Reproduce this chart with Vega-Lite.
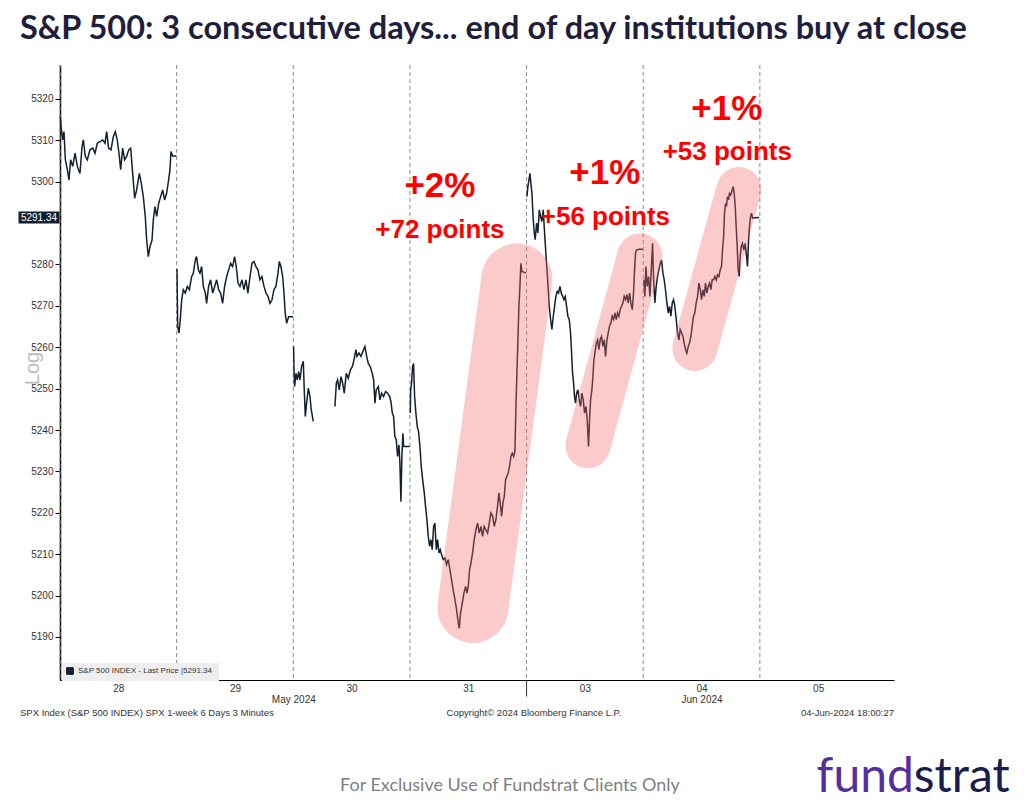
{
  "$schema": "https://vega.github.io/schema/vega-lite/v6.json",
  "width": 834,
  "height": 615,
  "autosize": {"type": "none"},
  "padding": {"left": 60, "top": 65, "right": 130, "bottom": 121},
  "background": "white",
  "title": {
    "text": "S&P 500: 3 consecutive days... end of day institutions buy at close",
    "anchor": "start",
    "frame": "group",
    "font": "Lato",
    "fontSize": 32.5,
    "fontWeight": "bold",
    "color": "#1f1f3d",
    "baseline": "alphabetic",
    "dx": -40,
    "dy": 34,
    "offset": 27
  },
  "config": {"view": {"stroke": null}},
  "datasets": {
    "days": [{"t": 0}, {"t": 1}, {"t": 2}, {"t": 3}, {"t": 4}, {"t": 5}, {"t": 6}],
    "sep": [{"t": 4, "v": 5179.6, "v2": 5175.6}],
    "price": [
      {"s":"28","t":0.003,"v":5315.7},{"s":"28","t":0.009,"v":5313.3},{"s":"28","t":0.023,"v":5310.1},{"s":"28","t":0.034,"v":5312.1},{"s":"28","t":0.046,"v":5305.3},{"s":"28","t":0.063,"v":5302.9},{"s":"28","t":0.077,"v":5300.4},{"s":"28","t":0.091,"v":5305.3},{"s":"28","t":0.109,"v":5303.7},{"s":"28","t":0.129,"v":5306.9},{"s":"28","t":0.149,"v":5303.7},{"s":"28","t":0.171,"v":5302.0},{"s":"28","t":0.189,"v":5308.5},{"s":"28","t":0.2,"v":5310.1},{"s":"28","t":0.217,"v":5306.1},{"s":"28","t":0.234,"v":5305.3},{"s":"28","t":0.257,"v":5307.7},{"s":"28","t":0.28,"v":5308.1},{"s":"28","t":0.3,"v":5306.9},{"s":"28","t":0.32,"v":5309.3},{"s":"28","t":0.343,"v":5309.7},{"s":"28","t":0.366,"v":5310.1},{"s":"28","t":0.386,"v":5309.3},{"s":"28","t":0.4,"v":5312.1},{"s":"28","t":0.417,"v":5308.1},{"s":"28","t":0.437,"v":5307.7},{"s":"28","t":0.457,"v":5310.9},{"s":"28","t":0.474,"v":5312.1},{"s":"28","t":0.491,"v":5310.1},{"s":"28","t":0.509,"v":5306.1},{"s":"28","t":0.52,"v":5302.9},{"s":"28","t":0.537,"v":5308.1},{"s":"28","t":0.554,"v":5305.3},{"s":"28","t":0.571,"v":5306.1},{"s":"28","t":0.589,"v":5307.7},{"s":"28","t":0.606,"v":5308.1},{"s":"28","t":0.623,"v":5302.0},{"s":"28","t":0.64,"v":5296.0},{"s":"28","t":0.657,"v":5298.0},{"s":"28","t":0.68,"v":5302.0},{"s":"28","t":0.697,"v":5299.6},{"s":"28","t":0.714,"v":5296.4},{"s":"28","t":0.731,"v":5291.6},{"s":"28","t":0.743,"v":5285.9},{"s":"28","t":0.757,"v":5281.9},{"s":"28","t":0.771,"v":5284.3},{"s":"28","t":0.789,"v":5285.9},{"s":"28","t":0.8,"v":5290.8},{"s":"28","t":0.814,"v":5294.0},{"s":"28","t":0.829,"v":5291.6},{"s":"28","t":0.846,"v":5294.8},{"s":"28","t":0.863,"v":5296.4},{"s":"28","t":0.88,"v":5298.0},{"s":"28","t":0.897,"v":5295.6},{"s":"28","t":0.914,"v":5297.2},{"s":"28","t":0.931,"v":5300.4},{"s":"28","t":0.943,"v":5302.9},{"s":"28","t":0.951,"v":5307.3},{"s":"28","t":0.966,"v":5306.2},{"s":"28","t":0.997,"v":5306.2},
      {"s":"29","t":1.003,"v":5278.9},{"s":"29","t":1.009,"v":5265.0},{"s":"29","t":1.02,"v":5263.4},{"s":"29","t":1.031,"v":5266.6},{"s":"29","t":1.043,"v":5271.4},{"s":"29","t":1.057,"v":5273.9},{"s":"29","t":1.074,"v":5273.1},{"s":"29","t":1.091,"v":5274.7},{"s":"29","t":1.109,"v":5273.9},{"s":"29","t":1.129,"v":5277.1},{"s":"29","t":1.143,"v":5277.9},{"s":"29","t":1.16,"v":5281.1},{"s":"29","t":1.171,"v":5281.9},{"s":"29","t":1.186,"v":5278.7},{"s":"29","t":1.2,"v":5277.9},{"s":"29","t":1.214,"v":5279.5},{"s":"29","t":1.229,"v":5274.7},{"s":"29","t":1.246,"v":5273.1},{"s":"29","t":1.257,"v":5270.6},{"s":"29","t":1.274,"v":5274.7},{"s":"29","t":1.291,"v":5276.3},{"s":"29","t":1.309,"v":5273.1},{"s":"29","t":1.326,"v":5274.7},{"s":"29","t":1.343,"v":5276.3},{"s":"29","t":1.36,"v":5273.9},{"s":"29","t":1.377,"v":5273.1},{"s":"29","t":1.394,"v":5270.6},{"s":"29","t":1.411,"v":5274.7},{"s":"29","t":1.429,"v":5277.1},{"s":"29","t":1.446,"v":5278.7},{"s":"29","t":1.463,"v":5280.3},{"s":"29","t":1.48,"v":5279.5},{"s":"29","t":1.497,"v":5281.9},{"s":"29","t":1.511,"v":5279.5},{"s":"29","t":1.526,"v":5275.5},{"s":"29","t":1.543,"v":5274.7},{"s":"29","t":1.56,"v":5276.3},{"s":"29","t":1.577,"v":5273.9},{"s":"29","t":1.594,"v":5276.3},{"s":"29","t":1.611,"v":5273.1},{"s":"29","t":1.629,"v":5277.1},{"s":"29","t":1.646,"v":5280.3},{"s":"29","t":1.663,"v":5280.7},{"s":"29","t":1.68,"v":5279.5},{"s":"29","t":1.697,"v":5278.7},{"s":"29","t":1.714,"v":5276.3},{"s":"29","t":1.731,"v":5277.1},{"s":"29","t":1.749,"v":5274.7},{"s":"29","t":1.766,"v":5273.1},{"s":"29","t":1.783,"v":5272.3},{"s":"29","t":1.8,"v":5270.6},{"s":"29","t":1.817,"v":5271.4},{"s":"29","t":1.834,"v":5273.9},{"s":"29","t":1.851,"v":5274.7},{"s":"29","t":1.869,"v":5277.9},{"s":"29","t":1.88,"v":5280.7},{"s":"29","t":1.894,"v":5279.5},{"s":"29","t":1.909,"v":5277.1},{"s":"29","t":1.92,"v":5273.1},{"s":"29","t":1.931,"v":5268.2},{"s":"29","t":1.943,"v":5265.8},{"s":"29","t":1.96,"v":5267.4},{"s":"29","t":1.997,"v":5267.4},
      {"s":"30a","t":2.003,"v":5260.2},{"s":"30a","t":2.006,"v":5254.5},{"s":"30a","t":2.011,"v":5250.5},{"s":"30a","t":2.023,"v":5253.7},{"s":"30a","t":2.034,"v":5252.1},{"s":"30a","t":2.046,"v":5254.1},{"s":"30a","t":2.057,"v":5252.1},{"s":"30a","t":2.071,"v":5255.3},{"s":"30a","t":2.086,"v":5256.6},{"s":"30a","t":2.094,"v":5249.7},{"s":"30a","t":2.103,"v":5243.3},{"s":"30a","t":2.114,"v":5246.5},{"s":"30a","t":2.129,"v":5250.1},{"s":"30a","t":2.143,"v":5248.1},{"s":"30a","t":2.154,"v":5244.9},{"s":"30a","t":2.171,"v":5242.1},
      {"s":"30b","t":2.357,"v":5245.7},{"s":"30b","t":2.369,"v":5251.3},{"s":"30b","t":2.38,"v":5252.1},{"s":"30b","t":2.394,"v":5249.7},{"s":"30b","t":2.409,"v":5252.9},{"s":"30b","t":2.423,"v":5251.3},{"s":"30b","t":2.437,"v":5248.9},{"s":"30b","t":2.454,"v":5253.7},{"s":"30b","t":2.471,"v":5252.5},{"s":"30b","t":2.489,"v":5254.5},{"s":"30b","t":2.506,"v":5255.3},{"s":"30b","t":2.52,"v":5256.9},{"s":"30b","t":2.537,"v":5259.4},{"s":"30b","t":2.546,"v":5257.8},{"s":"30b","t":2.563,"v":5258.6},{"s":"30b","t":2.58,"v":5257.8},{"s":"30b","t":2.597,"v":5259.0},{"s":"30b","t":2.614,"v":5260.2},{"s":"30b","t":2.629,"v":5257.8},{"s":"30b","t":2.643,"v":5256.1},{"s":"30b","t":2.66,"v":5255.3},{"s":"30b","t":2.677,"v":5253.7},{"s":"30b","t":2.689,"v":5252.1},{"s":"30b","t":2.7,"v":5246.5},{"s":"30b","t":2.711,"v":5249.7},{"s":"30b","t":2.729,"v":5250.5},{"s":"30b","t":2.743,"v":5247.3},{"s":"30b","t":2.757,"v":5248.9},{"s":"30b","t":2.774,"v":5248.1},{"s":"30b","t":2.791,"v":5249.3},{"s":"30b","t":2.809,"v":5248.9},{"s":"30b","t":2.826,"v":5248.1},{"s":"30b","t":2.837,"v":5246.9},{"s":"30b","t":2.849,"v":5244.1},{"s":"30b","t":2.86,"v":5243.3},{"s":"30b","t":2.871,"v":5238.4},{"s":"30b","t":2.883,"v":5237.6},{"s":"30b","t":2.894,"v":5233.6},{"s":"30b","t":2.906,"v":5236.4},{"s":"30b","t":2.914,"v":5232.0},{"s":"30b","t":2.923,"v":5222.7},{"s":"30b","t":2.931,"v":5233.6},{"s":"30b","t":2.94,"v":5239.2},{"s":"30b","t":2.946,"v":5236.0},{"s":"30b","t":2.997,"v":5236.0},
      {"s":"31","t":3.003,"v":5244.1},{"s":"31","t":3.006,"v":5249.7},{"s":"31","t":3.014,"v":5251.3},{"s":"31","t":3.023,"v":5255.3},{"s":"31","t":3.031,"v":5256.1},{"s":"31","t":3.04,"v":5248.1},{"s":"31","t":3.051,"v":5244.1},{"s":"31","t":3.063,"v":5240.8},{"s":"31","t":3.074,"v":5239.6},{"s":"31","t":3.086,"v":5236.0},{"s":"31","t":3.097,"v":5231.2},{"s":"31","t":3.109,"v":5228.0},{"s":"31","t":3.123,"v":5224.8},{"s":"31","t":3.134,"v":5221.5},{"s":"31","t":3.146,"v":5218.3},{"s":"31","t":3.157,"v":5214.3},{"s":"31","t":3.169,"v":5211.9},{"s":"31","t":3.18,"v":5213.5},{"s":"31","t":3.191,"v":5211.1},{"s":"31","t":3.203,"v":5216.7},{"s":"31","t":3.214,"v":5217.5},{"s":"31","t":3.226,"v":5211.1},{"s":"31","t":3.237,"v":5213.5},{"s":"31","t":3.249,"v":5210.3},{"s":"31","t":3.26,"v":5211.1},{"s":"31","t":3.271,"v":5209.9},{"s":"31","t":3.286,"v":5208.7},{"s":"31","t":3.3,"v":5209.1},{"s":"31","t":3.314,"v":5207.5},{"s":"31","t":3.329,"v":5208.7},{"s":"31","t":3.343,"v":5206.2},{"s":"31","t":3.357,"v":5203.8},{"s":"31","t":3.371,"v":5201.4},{"s":"31","t":3.386,"v":5199.0},{"s":"31","t":3.4,"v":5196.6},{"s":"31","t":3.414,"v":5193.4},{"s":"31","t":3.423,"v":5192.1},{"s":"31","t":3.434,"v":5195.8},{"s":"31","t":3.449,"v":5198.2},{"s":"31","t":3.463,"v":5200.6},{"s":"31","t":3.477,"v":5202.2},{"s":"31","t":3.489,"v":5200.6},{"s":"31","t":3.5,"v":5202.2},{"s":"31","t":3.511,"v":5206.2},{"s":"31","t":3.523,"v":5207.8},{"s":"31","t":3.537,"v":5210.3},{"s":"31","t":3.551,"v":5213.5},{"s":"31","t":3.566,"v":5215.9},{"s":"31","t":3.58,"v":5217.5},{"s":"31","t":3.594,"v":5215.1},{"s":"31","t":3.609,"v":5216.7},{"s":"31","t":3.623,"v":5214.3},{"s":"31","t":3.637,"v":5216.7},{"s":"31","t":3.651,"v":5215.9},{"s":"31","t":3.666,"v":5215.1},{"s":"31","t":3.68,"v":5217.5},{"s":"31","t":3.694,"v":5220.0},{"s":"31","t":3.709,"v":5219.2},{"s":"31","t":3.723,"v":5216.7},{"s":"31","t":3.737,"v":5218.3},{"s":"31","t":3.751,"v":5221.5},{"s":"31","t":3.763,"v":5224.8},{"s":"31","t":3.774,"v":5222.3},{"s":"31","t":3.786,"v":5219.2},{"s":"31","t":3.797,"v":5222.3},{"s":"31","t":3.809,"v":5224.0},{"s":"31","t":3.82,"v":5228.0},{"s":"31","t":3.831,"v":5228.8},{"s":"31","t":3.843,"v":5229.6},{"s":"31","t":3.854,"v":5231.2},{"s":"31","t":3.866,"v":5233.6},{"s":"31","t":3.877,"v":5234.4},{"s":"31","t":3.889,"v":5233.6},{"s":"31","t":3.9,"v":5234.8},{"s":"31","t":3.909,"v":5245.7},{"s":"31","t":3.917,"v":5253.7},{"s":"31","t":3.926,"v":5261.8},{"s":"31","t":3.934,"v":5269.8},{"s":"31","t":3.943,"v":5274.7},{"s":"31","t":3.951,"v":5280.3},{"s":"31","t":3.96,"v":5278.3},{"s":"31","t":3.997,"v":5277.9},
      {"s":"03","t":4.003,"v":5296.4},{"s":"03","t":4.011,"v":5298.8},{"s":"03","t":4.02,"v":5300.4},{"s":"03","t":4.029,"v":5302.0},{"s":"03","t":4.037,"v":5299.6},{"s":"03","t":4.046,"v":5297.2},{"s":"03","t":4.057,"v":5290.8},{"s":"03","t":4.066,"v":5287.6},{"s":"03","t":4.074,"v":5286.0},{"s":"03","t":4.086,"v":5290.0},{"s":"03","t":4.097,"v":5287.6},{"s":"03","t":4.109,"v":5293.2},{"s":"03","t":4.12,"v":5291.6},{"s":"03","t":4.131,"v":5290.4},{"s":"03","t":4.143,"v":5293.2},{"s":"03","t":4.151,"v":5289.2},{"s":"03","t":4.16,"v":5285.1},{"s":"03","t":4.169,"v":5281.1},{"s":"03","t":4.177,"v":5277.9},{"s":"03","t":4.186,"v":5273.9},{"s":"03","t":4.194,"v":5269.9},{"s":"03","t":4.206,"v":5266.7},{"s":"03","t":4.217,"v":5264.3},{"s":"03","t":4.229,"v":5267.5},{"s":"03","t":4.24,"v":5269.9},{"s":"03","t":4.251,"v":5272.3},{"s":"03","t":4.263,"v":5273.5},{"s":"03","t":4.274,"v":5273.1},{"s":"03","t":4.286,"v":5274.7},{"s":"03","t":4.297,"v":5273.1},{"s":"03","t":4.309,"v":5272.3},{"s":"03","t":4.32,"v":5271.5},{"s":"03","t":4.331,"v":5272.3},{"s":"03","t":4.343,"v":5269.9},{"s":"03","t":4.354,"v":5267.5},{"s":"03","t":4.366,"v":5266.7},{"s":"03","t":4.377,"v":5263.5},{"s":"03","t":4.386,"v":5258.6},{"s":"03","t":4.394,"v":5253.8},{"s":"03","t":4.403,"v":5251.4},{"s":"03","t":4.411,"v":5248.1},{"s":"03","t":4.42,"v":5246.5},{"s":"03","t":4.429,"v":5248.9},{"s":"03","t":4.44,"v":5249.7},{"s":"03","t":4.451,"v":5247.3},{"s":"03","t":4.463,"v":5245.7},{"s":"03","t":4.474,"v":5248.9},{"s":"03","t":4.486,"v":5247.3},{"s":"03","t":4.497,"v":5244.1},{"s":"03","t":4.509,"v":5245.7},{"s":"03","t":4.52,"v":5242.5},{"s":"03","t":4.531,"v":5236.0},{"s":"03","t":4.54,"v":5242.5},{"s":"03","t":4.549,"v":5247.3},{"s":"03","t":4.56,"v":5249.7},{"s":"03","t":4.569,"v":5252.9},{"s":"03","t":4.577,"v":5256.9},{"s":"03","t":4.586,"v":5258.6},{"s":"03","t":4.597,"v":5261.0},{"s":"03","t":4.609,"v":5261.8},{"s":"03","t":4.62,"v":5259.4},{"s":"03","t":4.631,"v":5261.8},{"s":"03","t":4.643,"v":5262.6},{"s":"03","t":4.654,"v":5260.2},{"s":"03","t":4.666,"v":5261.8},{"s":"03","t":4.677,"v":5257.8},{"s":"03","t":4.689,"v":5261.8},{"s":"03","t":4.7,"v":5263.5},{"s":"03","t":4.711,"v":5265.1},{"s":"03","t":4.723,"v":5265.9},{"s":"03","t":4.734,"v":5267.5},{"s":"03","t":4.746,"v":5266.7},{"s":"03","t":4.757,"v":5268.3},{"s":"03","t":4.769,"v":5266.7},{"s":"03","t":4.78,"v":5268.3},{"s":"03","t":4.791,"v":5267.5},{"s":"03","t":4.803,"v":5269.1},{"s":"03","t":4.814,"v":5269.9},{"s":"03","t":4.826,"v":5270.7},{"s":"03","t":4.837,"v":5272.3},{"s":"03","t":4.849,"v":5271.5},{"s":"03","t":4.86,"v":5272.7},{"s":"03","t":4.871,"v":5270.7},{"s":"03","t":4.883,"v":5273.1},{"s":"03","t":4.894,"v":5270.7},{"s":"03","t":4.906,"v":5269.1},{"s":"03","t":4.917,"v":5273.1},{"s":"03","t":4.926,"v":5278.7},{"s":"03","t":4.934,"v":5282.7},{"s":"03","t":4.943,"v":5283.5},{"s":"03","t":4.963,"v":5283.7},{"s":"03","t":4.997,"v":5283.7},
      {"s":"04","t":5.006,"v":5276.3},{"s":"04","t":5.014,"v":5272.3},{"s":"04","t":5.023,"v":5279.5},{"s":"04","t":5.034,"v":5274.7},{"s":"04","t":5.046,"v":5277.1},{"s":"04","t":5.057,"v":5272.3},{"s":"04","t":5.069,"v":5278.7},{"s":"04","t":5.08,"v":5285.1},{"s":"04","t":5.089,"v":5276.3},{"s":"04","t":5.1,"v":5270.7},{"s":"04","t":5.111,"v":5274.7},{"s":"04","t":5.123,"v":5277.1},{"s":"04","t":5.134,"v":5278.7},{"s":"04","t":5.146,"v":5280.3},{"s":"04","t":5.157,"v":5281.1},{"s":"04","t":5.169,"v":5277.9},{"s":"04","t":5.18,"v":5276.3},{"s":"04","t":5.191,"v":5273.9},{"s":"04","t":5.203,"v":5270.7},{"s":"04","t":5.214,"v":5268.3},{"s":"04","t":5.226,"v":5269.9},{"s":"04","t":5.237,"v":5267.5},{"s":"04","t":5.249,"v":5270.7},{"s":"04","t":5.26,"v":5271.5},{"s":"04","t":5.271,"v":5269.9},{"s":"04","t":5.283,"v":5266.7},{"s":"04","t":5.294,"v":5263.5},{"s":"04","t":5.306,"v":5261.8},{"s":"04","t":5.317,"v":5264.3},{"s":"04","t":5.329,"v":5263.5},{"s":"04","t":5.34,"v":5262.7},{"s":"04","t":5.351,"v":5261.0},{"s":"04","t":5.363,"v":5259.4},{"s":"04","t":5.374,"v":5258.6},{"s":"04","t":5.386,"v":5260.2},{"s":"04","t":5.397,"v":5261.0},{"s":"04","t":5.409,"v":5262.7},{"s":"04","t":5.42,"v":5265.1},{"s":"04","t":5.431,"v":5267.5},{"s":"04","t":5.443,"v":5268.3},{"s":"04","t":5.454,"v":5270.7},{"s":"04","t":5.466,"v":5272.3},{"s":"04","t":5.477,"v":5275.5},{"s":"04","t":5.489,"v":5273.9},{"s":"04","t":5.5,"v":5271.5},{"s":"04","t":5.511,"v":5273.9},{"s":"04","t":5.523,"v":5272.3},{"s":"04","t":5.534,"v":5275.5},{"s":"04","t":5.546,"v":5273.1},{"s":"04","t":5.557,"v":5274.7},{"s":"04","t":5.569,"v":5275.5},{"s":"04","t":5.58,"v":5273.9},{"s":"04","t":5.591,"v":5276.3},{"s":"04","t":5.603,"v":5276.3},{"s":"04","t":5.614,"v":5277.1},{"s":"04","t":5.626,"v":5276.3},{"s":"04","t":5.637,"v":5277.5},{"s":"04","t":5.649,"v":5277.1},{"s":"04","t":5.66,"v":5278.7},{"s":"04","t":5.671,"v":5279.5},{"s":"04","t":5.68,"v":5283.5},{"s":"04","t":5.689,"v":5286.7},{"s":"04","t":5.697,"v":5292.4},{"s":"04","t":5.706,"v":5294.8},{"s":"04","t":5.714,"v":5294.0},{"s":"04","t":5.723,"v":5296.4},{"s":"04","t":5.731,"v":5295.6},{"s":"04","t":5.74,"v":5297.2},{"s":"04","t":5.751,"v":5296.8},{"s":"04","t":5.763,"v":5298.0},{"s":"04","t":5.771,"v":5298.8},{"s":"04","t":5.78,"v":5297.2},{"s":"04","t":5.789,"v":5294.0},{"s":"04","t":5.797,"v":5289.1},{"s":"04","t":5.806,"v":5284.3},{"s":"04","t":5.814,"v":5278.7},{"s":"04","t":5.823,"v":5277.1},{"s":"04","t":5.831,"v":5281.9},{"s":"04","t":5.84,"v":5284.3},{"s":"04","t":5.851,"v":5285.1},{"s":"04","t":5.863,"v":5283.5},{"s":"04","t":5.874,"v":5285.1},{"s":"04","t":5.886,"v":5281.9},{"s":"04","t":5.894,"v":5279.5},{"s":"04","t":5.903,"v":5285.9},{"s":"04","t":5.911,"v":5289.1},{"s":"04","t":5.92,"v":5291.6},{"s":"04","t":5.929,"v":5292.4},{"s":"04","t":5.937,"v":5291.2},{"s":"04","t":5.951,"v":5291.3},{"s":"04","t":5.994,"v":5291.34}
    ],
    "pills": [
      {"p":"a","t":3.540,"v":5197.1},{"p":"a","t":3.917,"v":5276.5},
      {"p":"b","t":4.526,"v":5236.2},{"p":"b","t":4.971,"v":5282.1},
      {"p":"c","t":5.443,"v":5259.7},{"p":"c","t":5.820,"v":5298.1}
    ],
    "notes": [
      {"t":3.257,"v":5296.3,"label":"+2%","kind":"pct"},
      {"t":3.257,"v":5286.4,"label":"+72 points","kind":"pts"},
      {"t":4.671,"v":5299.5,"label":"+1%","kind":"pct"},
      {"t":4.676,"v":5289.6,"label":"+56 points","kind":"pts"},
      {"t":5.717,"v":5314.8,"label":"+1%","kind":"pct"},
      {"t":5.721,"v":5305.3,"label":"+53 points","kind":"pts"}
    ],
    "last": [{"t":-0.18,"v":5291.34,"label":"5291.34"}],
    "footer": [
      {"t":-0.343,"v":5171.0,"label":"SPX Index (S&P 500 INDEX) SPX 1-week 6 Days 3 Minutes","kind":"bbg"},
      {"t":3.314,"v":5171.0,"label":"Copyright© 2024 Bloomberg Finance L.P.","kind":"bbg"},
      {"t":7.15,"v":5171.0,"label":"04-Jun-2024 18:00:27","kind":"date"},
      {"t":3.857,"v":5152.9,"label":"For Exclusive Use of Fundstrat Clients Only","kind":"excl"},
      {"t":7.32,"v":5152.6,"label":"fund","kind":"fund"},
      {"t":7.32,"v":5152.6,"label":"strat","kind":"strat"}
    ]
  },
  "resolve": {"axis": {"x": "independent", "y": "independent"}},
  "layer": [
    {
      "data": {"name": "days"},
      "mark": {"type": "rule", "color": "#8c8c8c", "strokeWidth": 1, "strokeDash": [4, 3]},
      "encoding": {
        "x": {
          "field": "t", "type": "quantitative",
          "scale": {"domain": [0, 7.15], "nice": false, "zero": false},
          "axis": {
            "orient": "bottom",
            "values": [0.5, 1.5, 2.5, 3.5, 4.5, 5.5, 6.5],
            "labelExpr": "['28','29','30','31','03','04','05'][floor(datum.value)]",
            "ticks": false, "grid": false, "title": null,
            "domainColor": "#000000", "domainWidth": 1,
            "labelFont": "Liberation Sans", "labelFontSize": 10, "labelColor": "#333333",
            "labelPadding": 3
          }
        }
      }
    },
    {
      "data": {"name": "sep"},
      "mark": {"type": "rule", "color": "#333333", "strokeWidth": 1},
      "encoding": {
        "x": {
          "field": "t", "type": "quantitative",
          "axis": {
            "orient": "bottom",
            "values": [2, 5.5],
            "labelExpr": "datum.value < 3 ? 'May 2024' : 'Jun 2024'",
            "ticks": false, "grid": false, "domain": false, "title": null,
            "labelFont": "Liberation Sans", "labelFontSize": 10, "labelColor": "#333333",
            "labelPadding": 14
          }
        },
        "y": {"field": "v", "type": "quantitative", "axis": null},
        "y2": {"field": "v2"}
      }
    },
    {
      "data": {"name": "price"},
      "mark": {"type": "line", "strokeWidth": 1.5, "interpolate": "linear"},
      "encoding": {
        "x": {"field": "t", "type": "quantitative", "axis": null},
        "y": {
          "field": "v", "type": "quantitative",
          "scale": {"domain": [5179.6, 5328.2], "nice": false, "zero": false},
          "axis": {
            "orient": "left",
            "values": [5190, 5200, 5210, 5220, 5230, 5240, 5250, 5260, 5270, 5280, 5300, 5310, 5320],
            "format": "d", "grid": false,
            "title": "Log", "titleColor": "#bdbdbd", "titleFont": "Liberation Sans",
            "titleFontSize": 20, "titleFontWeight": "normal",
            "titleX": -28, "titleY": 303, "titleAlign": "center", "titleBaseline": "middle",
            "labelFont": "Liberation Sans", "labelFontSize": 10, "labelColor": "#333333",
            "tickColor": "#000000", "tickSize": 5, "labelPadding": 2,
            "domainColor": "#000000", "domainWidth": 1.5
          }
        },
        "detail": {"field": "s", "type": "nominal"},
        "color": {
          "datum": "S&P 500 INDEX - Last Price  |5291.34",
          "type": "nominal",
          "scale": {"range": ["#13202f"]},
          "legend": {
            "title": null, "orient": "none", "legendX": 2, "legendY": 598,
            "fillColor": "#eeeeee", "padding": 4,
            "labelFont": "Liberation Sans", "labelFontSize": 8, "labelColor": "#333333",
            "symbolType": "square", "symbolSize": 45,
            "symbolFillColor": "#13202f", "symbolStrokeColor": "#13202f", "symbolStrokeWidth": 1
          }
        }
      }
    },
    {
      "data": {"name": "pills"},
      "transform": [{"filter": "datum.p == 'a'"}],
      "mark": {"type": "line", "strokeWidth": 71, "strokeCap": "round", "color": "#f46a6a", "opacity": 0.35},
      "encoding": {
        "x": {"field": "t", "type": "quantitative", "axis": null},
        "y": {"field": "v", "type": "quantitative", "axis": null},
        "detail": {"field": "p", "type": "nominal"}
      }
    },
    {
      "data": {"name": "pills"},
      "transform": [{"filter": "datum.p != 'a'"}],
      "mark": {"type": "line", "strokeWidth": 45, "strokeCap": "round", "color": "#f46a6a", "opacity": 0.35},
      "encoding": {
        "x": {"field": "t", "type": "quantitative", "axis": null},
        "y": {"field": "v", "type": "quantitative", "axis": null},
        "detail": {"field": "p", "type": "nominal"}
      }
    },
    {
      "data": {"name": "notes"},
      "transform": [{"filter": "datum.kind == 'pct'"}],
      "mark": {"type": "text", "font": "Liberation Sans", "fontWeight": "bold", "fontSize": 35, "color": "#ff0000", "align": "center", "baseline": "alphabetic"},
      "encoding": {
        "x": {"field": "t", "type": "quantitative", "axis": null},
        "y": {"field": "v", "type": "quantitative", "axis": null},
        "text": {"field": "label"}
      }
    },
    {
      "data": {"name": "notes"},
      "transform": [{"filter": "datum.kind == 'pts'"}],
      "mark": {"type": "text", "font": "Liberation Sans", "fontWeight": "bold", "fontSize": 26, "color": "#ff0000", "align": "center", "baseline": "alphabetic"},
      "encoding": {
        "x": {"field": "t", "type": "quantitative", "axis": null},
        "y": {"field": "v", "type": "quantitative", "axis": null},
        "text": {"field": "label"}
      }
    },
    {
      "data": {"name": "last"},
      "mark": {"type": "tick", "orient": "horizontal", "size": 41, "thickness": 12, "color": "#13202f", "opacity": 1},
      "encoding": {
        "x": {"field": "t", "type": "quantitative", "axis": null},
        "y": {"field": "v", "type": "quantitative", "axis": null}
      }
    },
    {
      "data": {"name": "last"},
      "mark": {"type": "text", "font": "Liberation Sans", "fontSize": 10, "color": "#ffffff", "align": "center", "baseline": "middle"},
      "encoding": {
        "x": {"field": "t", "type": "quantitative", "axis": null},
        "y": {"field": "v", "type": "quantitative", "axis": null},
        "text": {"field": "label"}
      }
    },
    {
      "data": {"name": "footer"},
      "transform": [{"filter": "datum.kind == 'bbg'"}],
      "mark": {"type": "text", "font": "Liberation Sans", "fontSize": 9.5, "color": "#333333", "align": "left", "baseline": "alphabetic"},
      "encoding": {
        "x": {"field": "t", "type": "quantitative", "axis": null},
        "y": {"field": "v", "type": "quantitative", "axis": null},
        "text": {"field": "label"}
      }
    },
    {
      "data": {"name": "footer"},
      "transform": [{"filter": "datum.kind == 'date'"}],
      "mark": {"type": "text", "font": "Liberation Sans", "fontSize": 9.5, "color": "#333333", "align": "right", "baseline": "alphabetic"},
      "encoding": {
        "x": {"field": "t", "type": "quantitative", "axis": null},
        "y": {"field": "v", "type": "quantitative", "axis": null},
        "text": {"field": "label"}
      }
    },
    {
      "data": {"name": "footer"},
      "transform": [{"filter": "datum.kind == 'excl'"}],
      "mark": {"type": "text", "font": "Lato", "fontSize": 18, "color": "#7f7f7f", "align": "center", "baseline": "alphabetic"},
      "encoding": {
        "x": {"field": "t", "type": "quantitative", "axis": null},
        "y": {"field": "v", "type": "quantitative", "axis": null},
        "text": {"field": "label"}
      }
    },
    {
      "data": {"name": "footer"},
      "transform": [{"filter": "datum.kind == 'fund'"}],
      "mark": {"type": "text", "font": "Lato", "fontSize": 48, "color": "#552ea0", "align": "right", "baseline": "alphabetic"},
      "encoding": {
        "x": {"field": "t", "type": "quantitative", "axis": null},
        "y": {"field": "v", "type": "quantitative", "axis": null},
        "text": {"field": "label"}
      }
    },
    {
      "data": {"name": "footer"},
      "transform": [{"filter": "datum.kind == 'strat'"}],
      "mark": {"type": "text", "font": "Lato", "fontSize": 48, "color": "#1b1d4d", "align": "left", "baseline": "alphabetic"},
      "encoding": {
        "x": {"field": "t", "type": "quantitative", "axis": null},
        "y": {"field": "v", "type": "quantitative", "axis": null},
        "text": {"field": "label"}
      }
    }
  ]
}
